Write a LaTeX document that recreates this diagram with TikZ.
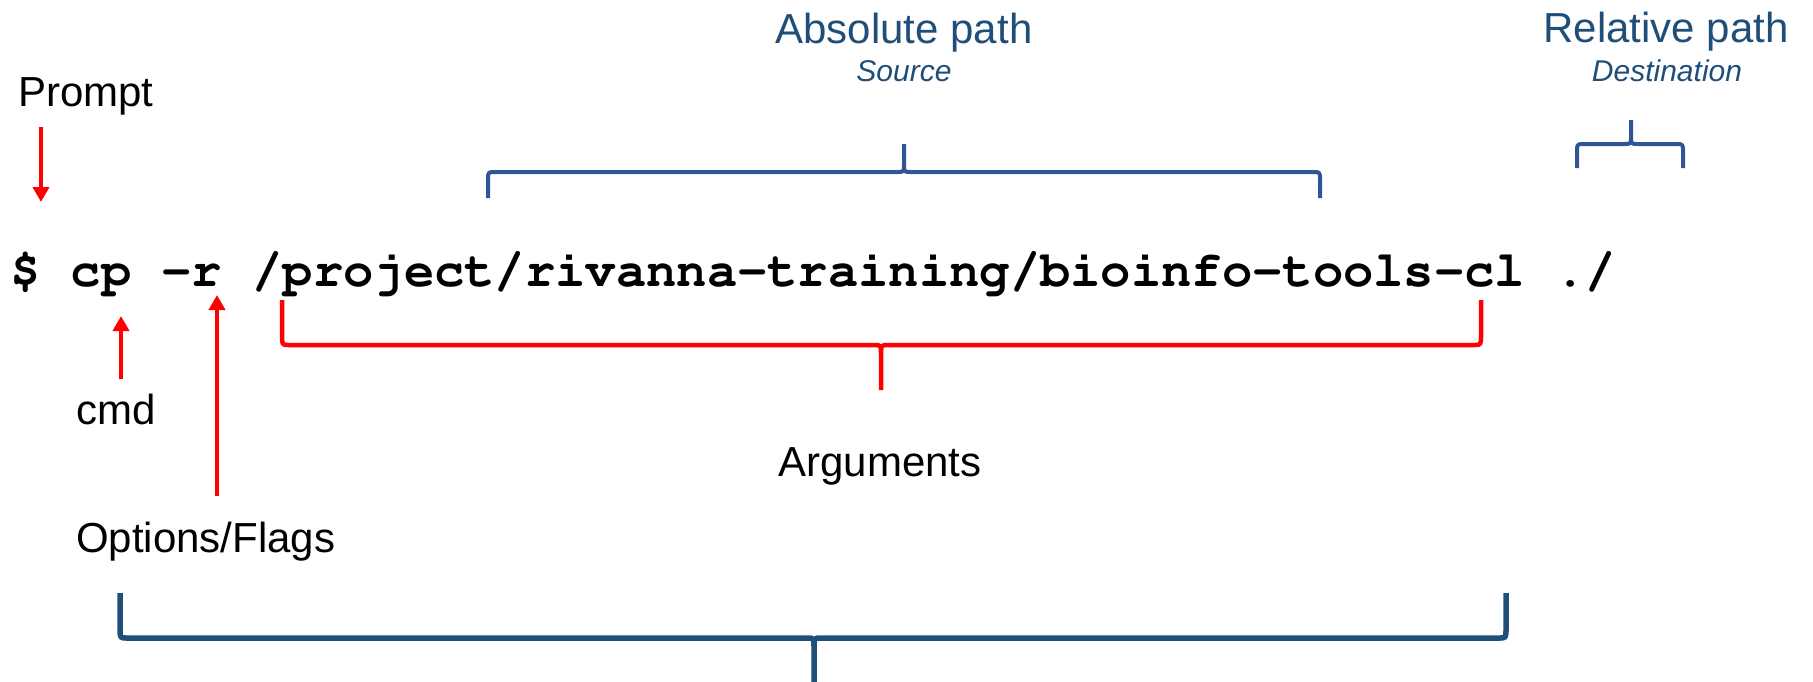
\documentclass[tikz,border=0pt]{standalone}
\usepackage[T1]{fontenc}
\usepackage{fontspec}
\setmainfont{Liberation Sans}
\setmonofont{Liberation Mono}
\usetikzlibrary{arrows.meta}
\definecolor{lblue}{HTML}{1F4E79}
\definecolor{bblue}{HTML}{2F5597}
\definecolor{dblue}{HTML}{1F4E79}
\definecolor{myred}{HTML}{FF0000}
\newcommand{\courierbold}{\fontencoding{T1}\fontfamily{pcr}\fontseries{b}\fontshape{n}\fontsize{50.5}{60}\selectfont}
% #2 x1, #3 xm, #4 x2, #5 yEnd, #6 yH, #7 yTip, #8 signed vertical radius
\newcommand{\cbrace}[8][]{%
 \draw[#1] (#2,#5) -- (#2,{#6+#8}) .. controls (#2,#6) .. ({#2+7},#6) -- ({#3-7},#6)
   .. controls (#3,#6) .. (#3,{#6-#8}) -- (#3,#7)
   (#3,{#6-#8}) .. controls (#3,#6) .. ({#3+7},#6) -- ({#4-7},#6)
   .. controls (#4,#6) .. (#4,{#6+#8}) -- (#4,#5);}
\begin{document}
\begin{tikzpicture}[x=1pt,y=-1pt,
  lbl/.style={inner sep=0pt,font=\fontsize{42}{50}\selectfont},
  bluelbl/.style={inner sep=0pt,text=lblue,font=\fontsize{42}{50}\selectfont},
  sublbl/.style={inner sep=0pt,text=lblue,font=\fontsize{30}{36}\selectfont\itshape},
  redarrow/.style={draw=myred,line width=4pt,-{Triangle[width=16pt,length=15pt]}},
  bracestyle/.style={line width=4pt,line join=round}]
\useasboundingbox (0,0) rectangle (1813,681);
% command line
\node[inner sep=0pt,anchor=base west,font=\courierbold] (cmdline) at (10,286) {\$ cp -r /project/rivanna-training/bioinfo-tools-cl ./};
% labels
\node[lbl,anchor=base west] (prompt) at (18,106) {Prompt};
\node[lbl,anchor=base west] (cmd) at (76,424) {cmd};
\node[lbl,anchor=base west] (opts) at (76,552) {Options/Flags};
\node[lbl,anchor=base] (args) at (880,476) {Arguments};
\node[bluelbl,anchor=base] (abs) at (904,43) {Absolute path};
\node[sublbl,anchor=base] (src) at (904,81) {Source};
\node[bluelbl,anchor=base] (rel) at (1666,42) {Relative path};
\node[sublbl,anchor=base] (dst) at (1667,81) {Destination};
% arrows
\coordinate (pstart) at (41,127);
\coordinate (ptip) at (41,202);
\draw[redarrow] (pstart) -- (ptip);
\coordinate (cstart) at (121,379);
\coordinate (ctip) at (121,316);
\draw[redarrow] (cstart) -- (ctip);
\coordinate (ostart) at (217,496);
\coordinate (otip) at (217,295);
\draw[redarrow] (ostart) -- (otip);
% braces
\cbrace[bracestyle,draw=bblue]{488}{904}{1320}{198}{172}{144}{8}
\cbrace[bracestyle,draw=bblue]{1577}{1631}{1683}{168}{144}{120}{8}
\cbrace[bracestyle,draw=myred,line width=4.5pt]{282}{881}{1481}{300}{345}{390}{-10}
\cbrace[bracestyle,draw=dblue,line width=5.5pt]{120}{814}{1506}{593}{638}{690}{-10}
\end{tikzpicture}
\end{document}
